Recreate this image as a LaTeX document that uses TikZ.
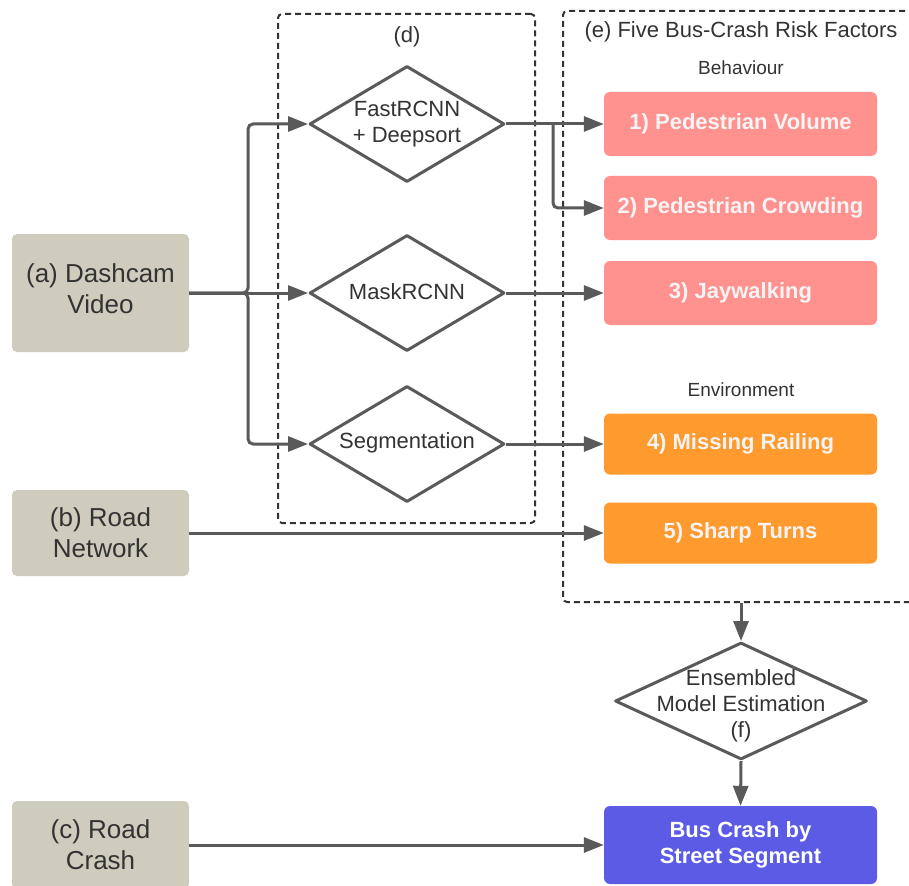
\documentclass[tikz,border=0pt]{standalone}
\usepackage{fontspec}
\setmainfont{Liberation Sans}
\usetikzlibrary{shapes.geometric,arrows.meta}
\definecolor{linec}{HTML}{5A5A5A}
\definecolor{txtc}{HTML}{333333}
\definecolor{srcc}{HTML}{CFCCBE}
\definecolor{pinkc}{HTML}{FF928E}
\definecolor{orgc}{HTML}{FF9A2E}
\definecolor{bluec}{HTML}{5B5BE6}
\definecolor{wtxt}{HTML}{F4F4F4}
\begin{document}
\begin{tikzpicture}[x=1pt,y=-1pt,
 srcbox/.style={fill=srcc, rounded corners=5pt, minimum width=177pt, text=txtc, font=\fontsize{26}{31}\selectfont, align=center, inner sep=0pt},
 factor/.style={rounded corners=6pt, minimum width=273pt, text=wtxt, font=\bfseries\fontsize{22}{26}\selectfont, align=center, inner sep=0pt},
 dia/.style={diamond, draw=linec, line width=3pt, fill=white, minimum width=195pt, minimum height=116pt, inner sep=0pt, line join=round},
 diatext/.style={text=txtc, font=\fontsize{22}{26}\selectfont, align=center, inner sep=0pt},
 lbl/.style={text=txtc, inner sep=0pt},
 conn/.style={draw=linec, line width=3pt, -{Triangle[length=20pt,width=15pt]}, rounded corners=5pt},
 grp/.style={draw=txtc, line width=2pt, dash pattern=on 6pt off 4pt, rounded corners=4pt, inner sep=0pt}
]
\useasboundingbox (0,0) rectangle (909,885);
\clip (0,0) rectangle (909,885);
\fill[white] (0,0) rectangle (909,885);

% group boxes
\node[grp, minimum width=257pt, minimum height=509pt] (dgrp) at (406.5,268.5) {};
\node[grp, minimum width=356pt, minimum height=591pt] (egrp) at (741,306.5) {};
\node[lbl, font=\fontsize{22}{26}\selectfont] (dtitle) at (407,37) {(d)};
\node[lbl, font=\fontsize{22}{26}\selectfont] (etitle) at (741,32) {(e) Five Bus-Crash Risk Factors};
\node[lbl, font=\fontsize{19}{23}\selectfont] (beh) at (741,68) {Behaviour};
\node[lbl, font=\fontsize{19}{23}\selectfont] (env) at (741,390) {Environment};

% sources
\node[srcbox, minimum height=118pt] (a) at (100.5,293) {(a) Dashcam\\Video\rule[-8pt]{0pt}{0pt}};
\node[srcbox, minimum height=86pt] (b) at (100.5,533) {(b) Road\\Network};
\node[srcbox, minimum height=88pt] (c) at (100.5,845) {(c) Road\\Crash};

% diamonds
\node[dia] (d1) at (407,124) {};
\node[diatext] (d1t) at (407,124) {FastRCNN\\+ Deepsort};
\node[dia] (d2) at (407,293) {};
\node[diatext] (d2t) at (407,292) {MaskRCNN};
\node[dia] (d3) at (407,444) {};
\node[diatext] (d3t) at (407,443) {Segmentation};

% factors
\node[factor, fill=pinkc, minimum height=64pt] (f1) at (740.5,124) {1) Pedestrian Volume};
\node[factor, fill=pinkc, minimum height=64pt] (f2) at (740.5,208) {2) Pedestrian Crowding};
\node[factor, fill=pinkc, minimum height=64pt] (f3) at (740.5,293) {3) Jaywalking};
\node[factor, fill=orgc, minimum height=61pt] (f4) at (740.5,444) {4) Missing Railing};
\node[factor, fill=orgc, minimum height=61pt] (f5) at (740.5,533) {5) Sharp Turns};

% ensemble
\node[dia, minimum width=252pt, minimum height=117pt] (fd) at (741,701) {};
\node[diatext] (fdt) at (741,706) {Ensembled\\Model Estimation\\(f)};
\node[factor, fill=bluec, minimum height=78pt, text=white] (bus) at (740.5,845) {Bus Crash by\\Street Segment};

% connectors
\coordinate (jn) at (248,293);
\coordinate (br) at (553,124);
\draw[conn] (a.east) -- (jn) |- (d1.west);
\draw[conn] (a.east) -- (d2.west);
\draw[conn] (a.east) -- (jn) |- (d3.west);
\draw[conn] (d1.east) -- (f1.west);
\draw[conn] (br) |- (f2.west);
\draw[conn] (d2.east) -- (f3.west);
\draw[conn] (d3.east) -- (f4.west);
\draw[conn] (b.east) -- (f5.west);
\draw[conn] (egrp.south) -- (fd.north);
\draw[conn] (fd.south) -- (bus.north);
\draw[conn] (c.east) -- (bus.west);
\end{tikzpicture}
\end{document}
